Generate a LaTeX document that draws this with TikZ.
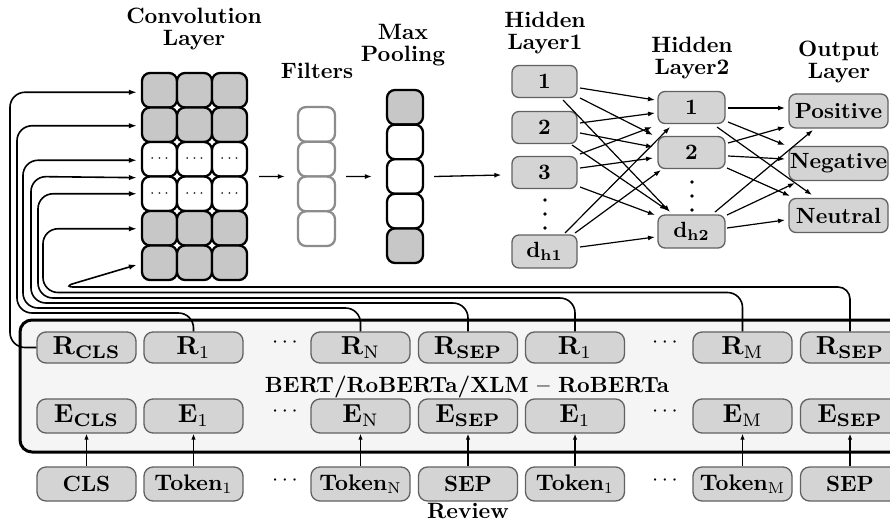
\documentclass[tikz,border=0pt]{standalone}
\usetikzlibrary{arrows.meta,calc}
\newcommand\ttxt[1]{\scalebox{2.22}{\bfseries\def\arraystretch{0.79}\begin{tabular}{@{}c@{}}#1\end{tabular}}}
\newcommand\btxt[1]{\scalebox{2.2}{\bfseries #1}}
\newcommand\REx[2]{\scalebox{2.6}{$\mathbf{#1}_{#2}$}}
\newcommand\TK[1]{\scalebox{2.25}{\textbf{Token}$_{#1}$}}
\begin{document}
\begin{tikzpicture}[x=1pt,y=-1pt]
\tikzset{
 ttl/.style={inner sep=0pt},
 cell/.style={draw=black, line width=2.3pt, rounded corners=8pt, minimum width=35pt, minimum height=34.5pt, inner sep=0pt},
 gcell/.style={cell, fill=black!22},
 wcell/.style={cell, fill=white},
 fcell/.style={draw=black!45, fill=white, line width=2.3pt, rounded corners=8pt, minimum width=37pt, minimum height=34.75pt, inner sep=0pt},
 nn/.style={draw=black!62, fill=black!17, line width=1.3pt, rounded corners=7pt, inner sep=0pt},
 hn/.style={nn, minimum width=65pt, minimum height=32pt},
 on/.style={nn, minimum width=99pt, minimum height=34pt},
 bn/.style={nn, rounded corners=9pt, minimum width=99pt},
 arr/.style={-{Latex[length=7pt,width=5pt]}, line width=1.3pt},
 nnl/.style={-{Latex[length=7pt,width=5pt]}, line width=1.2pt},
 conn/.style={-{Latex[length=8pt,width=5.5pt]}, line width=1.6pt, rounded corners=15pt},
}
\useasboundingbox (0,0) rectangle (890,525);
\clip (0,0) rectangle (890,525);

% titles
\node[ttl] (tconv) at (194,30) {\ttxt{Convolution\\Layer}};
\node[ttl] (tfil) at (317,74) {\ttxt{Filters}};
\node[ttl] (tmax) at (403,46) {\ttxt{Max\\Pooling}};
\node[ttl] (th1) at (545,34) {\ttxt{Hidden\\Layer1}};
\node[ttl] (th2) at (692,59) {\ttxt{Hidden\\Layer2}};
\node[ttl] (tout) at (839,63) {\ttxt{Output\\Layer}};

% convolution grid
\foreach \r/\s/\t in {1/gcell/{},2/gcell/{},3/wcell/{\scalebox{1.6}{$\cdots$}},4/wcell/{\scalebox{1.6}{$\cdots$}},5/gcell/{},6/gcell/{}}{
  \foreach \c in {1,2,3}{
    \node[\s] (c\r\c) at ({124.5+35*\c},{55.75+34.5*\r}) {\t};
  }
}
% filters
\foreach \r in {1,2,3,4}{
  \node[fcell] (f\r) at (316.5,{89.65+34.75*\r}) {};
}
% max pooling
\foreach \r/\s in {1/gcell,2/wcell,3/wcell,4/wcell,5/gcell}{
  \node[\s, minimum width=36pt, minimum height=34.6pt] (m\r) at (405,{72.7+34.6*\r}) {};
}

% hidden layers and output
\node[hn] (h11) at (544.5,81.5) {\btxt{1}};
\node[hn] (h12) at (544.5,127.5) {\btxt{2}};
\node[hn] (h13) at (544.5,172.5) {\btxt{3}};
\node[hn, minimum height=33pt] (h1d) at (544.5,251.5) {\btxt{d$_{\mathbf{h1}}$}};
\node[hn, minimum width=67pt] (h21) at (691.5,107.5) {\btxt{1}};
\node[hn, minimum width=67pt] (h22) at (691.5,152.5) {\btxt{2}};
\node[hn, minimum width=67pt, minimum height=33pt] (h2d) at (691.5,231.5) {\btxt{d$_{\mathbf{h2}}$}};
\node[on] (pos) at (838.5,111) {\btxt{Positive}};
\node[on] (neg) at (838.5,163.5) {\btxt{Negative}};
\node[on] (neu) at (838.5,215.5) {\btxt{Neutral}};

\foreach \y in {200,214,228}{\fill (545,\y) circle[radius=1.8pt];}
\foreach \y in {182,196,210}{\fill (692,\y) circle[radius=1.8pt];}

% arrows between stages
\draw[arr] ($(c33.east)!0.5!(c43.east)+(11,0)$) -- ($(f2.west)!0.5!(f3.west)+(-12,0)$);
\draw[arr] ($(f2.east)!0.5!(f3.east)+(10,0)$) -- ($(m3.west)+(-14,0)$);
\draw[arr] ($(m3.east)+(10,0)$) -- ($(h13.west)+(-10,2.5)$);

% hidden1 -> hidden2
\draw[nnl] ($(h11)+(35.5,6.5)$) -- ($(h21)+(-36.5,-7.5)$);
\draw[nnl] ($(h11)+(35.5,16.5)$) -- ($(h22)+(-38.5,-17.5)$);
\draw[nnl] ($(h11)+(18.5,18.5)$) -- ($(h2d)+(-21.5,-19.5)$);
\draw[nnl] ($(h12)+(35.5,-4.5)$) -- ($(h21)+(-36.5,5.5)$);
\draw[nnl] ($(h12)+(35.5,5.5)$) -- ($(h22)+(-38.5,-5.5)$);
\draw[nnl] ($(h12)+(27.5,17.5)$) -- ($(h2d)+(-24.5,-21.5)$);
\draw[nnl] ($(h13)+(35.5,-18.5)$) -- ($(h21)+(-39.5,19.5)$);
\draw[nnl] ($(h13)+(35.5,-4.5)$) -- ($(h22)+(-38.5,5.5)$);
\draw[nnl] ($(h13)+(35.5,14.5)$) -- ($(h2d)+(-36.5,-16.5)$);
\draw[nnl] ($(h1d)+(20.5,-18.5)$) -- ($(h21)+(-21.5,19.5)$);
\draw[nnl] ($(h1d)+(30.5,-18.5)$) -- ($(h22)+(-30.5,17.5)$);
\draw[nnl] ($(h1d)+(35.5,-4.5)$) -- ($(h2d)+(-36.5,5.5)$);
% hidden2 -> output
\draw[nnl] ($(h21)+(36.5,0.5)$) -- ($(pos)+(-53.5,-3)$);
\draw[nnl] ($(h21)+(36.5,14.5)$) -- ($(neg)+(-53.5,-18.5)$);
\draw[nnl] ($(h21)+(25.5,19.5)$) -- ($(neu)+(-26.5,-20.5)$);
\draw[nnl] ($(h22)+(36.5,-9.5)$) -- ($(pos)+(-53.5,16)$);
\draw[nnl] ($(h22)+(36.5,3.5)$) -- ($(neg)+(-53.5,-4.5)$);
\draw[nnl] ($(h22)+(35.5,15.5)$) -- ($(neu)+(-48.5,-19.5)$);
\draw[nnl] ($(h2d)+(23.5,-19.5)$) -- ($(pos)+(-25.5,19)$);
\draw[nnl] ($(h2d)+(35.5,-16.5)$) -- ($(neg)+(-43.5,19.5)$);
\draw[nnl] ($(h2d)+(35.5,-3.5)$) -- ($(neu)+(-53.5,4.5)$);

% BERT box
\node[draw=black, fill=black!4, line width=3pt, rounded corners=12pt, minimum width=890pt, minimum height=132pt, inner sep=0pt] (box) at (465,386) {};
\node[inner sep=0pt] (bertlbl) at (467,387) {\btxt{BERT/RoBERTa/XLM -- RoBERTa}};

\foreach \x/\n/\s/\t in {86.5/cls/{\mathbf{CLS}}/{\btxt{CLS}},193.5/a/{1}/{\TK{1}},360.5/n/{\mathrm{N}}/{\TK{\mathrm{N}}},468/sep/{\mathbf{SEP}}/{\btxt{SEP}},575/b/{1}/{\TK{1}},742.5/m/{\mathrm{M}}/{\TK{\mathrm{M}}},850/sepb/{\mathbf{SEP}}/{\btxt{SEP}}}{
  \node[bn, minimum height=31pt] (r\n) at (\x,347.5) {\REx{R}{\s}};
  \node[bn, minimum height=34pt] (e\n) at (\x,416) {\REx{E}{\s}};
  \node[bn, minimum height=34pt] (t\n) at (\x,484) {\t};
  \draw[-{Latex[length=6pt,width=4.5pt]}, line width=1.3pt] (t\n.north) -- (e\n.south);
}
\foreach \x/\k in {285/1,665/2}{
  \node[inner sep=0pt] (dr\k) at (\x,343) {\scalebox{2.2}{$\cdots$}};
  \node[inner sep=0pt] (de\k) at (\x,412) {\scalebox{2.2}{$\cdots$}};
  \node[inner sep=0pt] (dt\k) at (\x,481) {\scalebox{2.2}{$\cdots$}};
}
\node[ttl] (review) at (468,514) {\ttxt{Review}};

% connectors from BERT outputs to convolution layer
\coordinate (a1) at ($(c11.west)+(-4,2)$);
\coordinate (a2) at ($(c21.west)+(-4,1)$);
\coordinate (a3) at ($(c31.west)+(-4,1)$);
\coordinate (a4) at ($(c31.south west)+(-4,0)$);
\coordinate (a5) at ($(c41.west)+(-4,0)$);
\coordinate (a6) at ($(c51.west)+(-4,0.5)$);
\coordinate (a7) at ($(c61.west)+(-4,2)$);
\draw[conn] (rcls.west) -- (10,347.5) -- (10,92.25) -- (a1);
\draw[conn] (ra.north) -- (193.5,313) -- (17,313) -- (17,125.75) -- (a2);
\draw[conn] (rn.north) -- (360.5,308) -- (23,308) -- (23,160.25) -- (a3);
\draw[conn] (rsep.north) -- (468,303) -- (31,303) -- (31,176.5) -- (a4);
\draw[conn] (rb.north) -- (575,298) -- (38,298) -- (38,193.75) -- (a5);
\draw[conn] (rm.north) -- (742.5,292.5) -- (43,292.5) -- (43,228.75) -- (a6);
\draw[conn, rounded corners=12pt] (rsepb.north) -- (850,287) -- (62,287) -- (a7);
\end{tikzpicture}
\end{document}
